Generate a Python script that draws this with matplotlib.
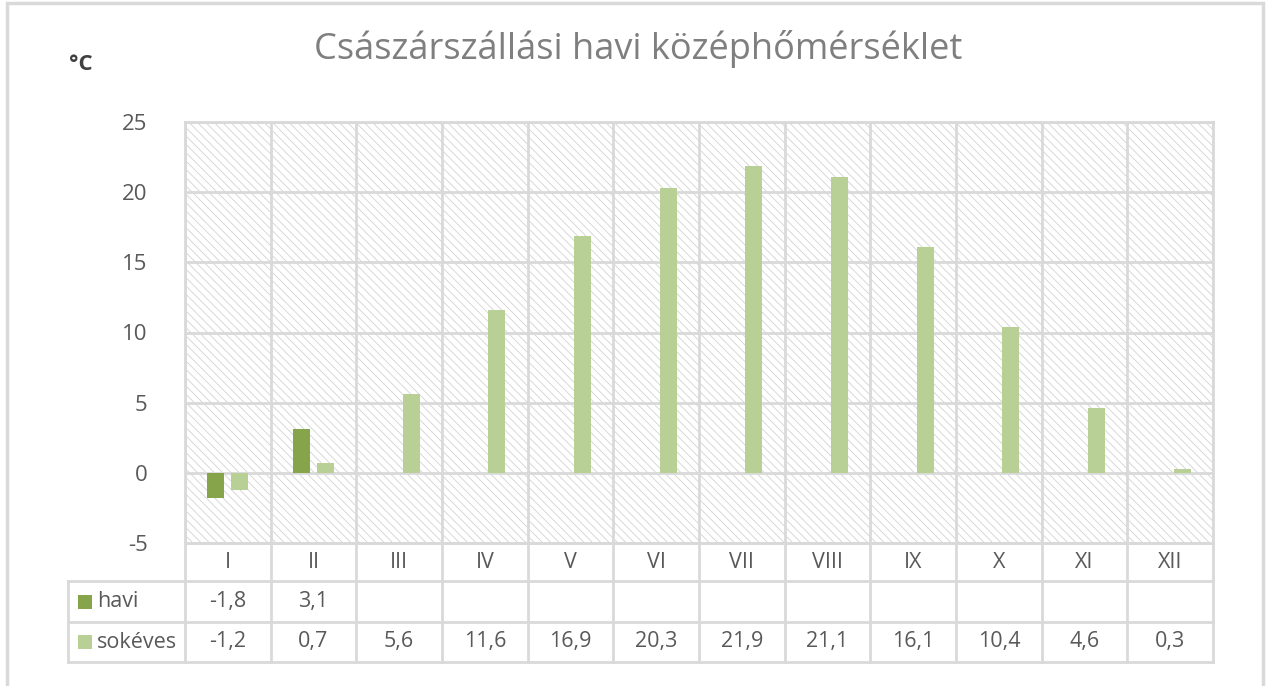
import numpy as np
import matplotlib
matplotlib.use("Agg")
import matplotlib.pyplot as plt
from matplotlib.transforms import blended_transform_factory
from matplotlib.patches import Rectangle

months = ["I", "II", "III", "IV", "V", "VI", "VII", "VIII", "IX", "X", "XI", "XII"]
havi = [-1.8, 3.1, None, None, None, None, None, None, None, None, None, None]
sokeves = [-1.2, 0.7, 5.6, 11.6, 16.9, 20.3, 21.9, 21.1, 16.1, 10.4, 4.6, 0.3]
series_names = ["havi", "sokéves"]
yticks = [-5, 0, 5, 10, 15, 20, 25]
title = "Császárszállási havi középhőmérséklet"
unit = "°C"

c_havi = "#86A54B"
c_sok = "#B8CF95"
grid_c = "#D9D9D9"
txt_c = "#595959"
hatch_c = "#D2D2D2"

plt.rcParams['font.family'] = ['Open Sans', 'DejaVu Sans']
plt.rcParams['hatch.linewidth'] = 0.6

W, H = 1268, 686
fig = plt.figure(figsize=(W / 100, H / 100), dpi=100)

def fx(px):
    return px / W

def fy(py):
    return 1 - py / H

L, R, T, B = 185, 1213, 122, 543
ax = fig.add_axes([fx(L), fy(B), fx(R) - fx(L), fy(T) - fy(B)])
ax.set_xlim(-0.5, len(months) - 0.5)
ax.set_ylim(-5, 25)

# hatched background
ax.add_patch(Rectangle((0, 0), 1, 1, transform=ax.transAxes, facecolor="white",
                       edgecolor=hatch_c, linewidth=0, hatch="\\" * 4, zorder=0))

x = np.arange(len(months))
w = 0.2
off = 0.14
hv = [np.nan if v is None else v for v in havi]
ax.bar(x - off, hv, width=w, color=c_havi, zorder=3)
ax.bar(x + off, sokeves, width=w, color=c_sok, zorder=3)

ax.set_yticks(yticks)
ax.set_yticklabels([str(t) for t in yticks], fontsize=16, color=txt_c)
ax.tick_params(axis='y', length=0, pad=27)
ax.set_xticks([])
for yv in yticks:
    ax.axhline(yv, color=grid_c, lw=2, zorder=1)
for xb in np.arange(-0.5, len(months), 1.0):
    ax.axvline(xb, color=grid_c, lw=2, zorder=1)
for s in ax.spines.values():
    s.set_color(grid_c)
    s.set_linewidth(2)

# data table below
tr = blended_transform_factory(ax.transData, ax.transAxes)
axh = B - T

def ay(py):
    return (B - py) / axh

rows = [543, 581, 622, 662]
xleft = -0.5 - (L - 68) / ((R - L) / len(months))
ax.plot([-0.5, 11.5], [ay(rows[0])] * 2, transform=tr, color=grid_c, lw=2, clip_on=False)
for r in rows[1:]:
    ax.plot([xleft, 11.5], [ay(r)] * 2, transform=tr, color=grid_c, lw=2, clip_on=False)
for xb in np.arange(-0.5, len(months), 1.0):
    ax.plot([xb, xb], [ay(rows[0]), ay(rows[3])], transform=tr, color=grid_c, lw=2, clip_on=False)
ax.plot([xleft, xleft], [ay(rows[1]), ay(rows[3])], transform=tr, color=grid_c, lw=2, clip_on=False)

def fmt(v):
    return "" if v is None else ("%.1f" % v).replace(".", ",")

fs_tab = 15.5
for i, m in enumerate(months):
    ax.text(i, ay((rows[0] + rows[1]) / 2), m, transform=tr, ha="center", va="center",
            fontsize=fs_tab, color=txt_c)
    ax.text(i, ay((rows[1] + rows[2]) / 2), fmt(havi[i]), transform=tr, ha="center", va="center",
            fontsize=fs_tab, color=txt_c)
    ax.text(i, ay((rows[2] + rows[3]) / 2), fmt(sokeves[i]), transform=tr, ha="center", va="center",
            fontsize=fs_tab, color=txt_c)

for name, col, r0, r1 in [(series_names[0], c_havi, rows[1], rows[2]),
                          (series_names[1], c_sok, rows[2], rows[3])]:
    yc = (r0 + r1) / 2
    fig.patches.append(Rectangle((fx(78), fy(yc + 7)), fx(14), 14 / H, transform=fig.transFigure,
                                 facecolor=col, edgecolor="none"))
    fig.text(fx(97), fy(yc), name, ha="left", va="center", fontsize=fs_tab, color=txt_c)

fig.text(fx(638), fy(49), title, ha="center", va="center", fontsize=26, color="#7F7F7F")
fig.text(fx(81), fy(65), unit, ha="center", va="center", fontsize=16, color="#404040", fontweight="bold")

fig.patches.append(Rectangle((fx(7), fy(700)), fx(1263 - 7), (700 - 3) / H, transform=fig.transFigure,
                             facecolor="none", edgecolor="#D9D9D9", lw=2.5))

fig.savefig("out.png", dpi=100, facecolor="white")
